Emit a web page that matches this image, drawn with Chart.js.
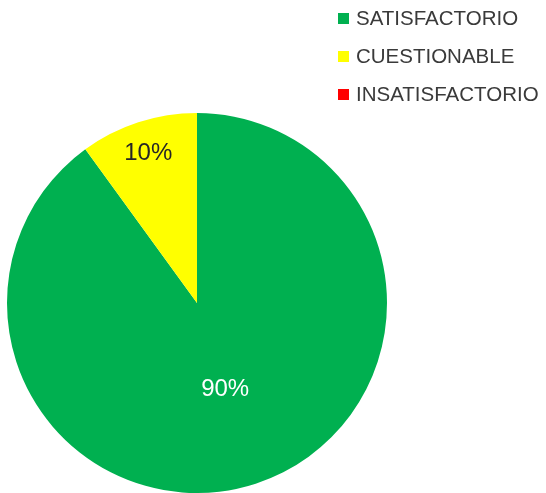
<!DOCTYPE html>
<html>
<head>
<meta charset="utf-8">
<script src="https://cdn.jsdelivr.net/npm/chart.js@4.4.1/dist/chart.umd.min.js"></script>
<style>
  html, body { margin: 0; padding: 0; background: #fff; }
  #wrap { width: 546px; height: 493px; position: relative; }
</style>
</head>
<body>
<div id="wrap"><canvas id="pieChart"></canvas></div>
<script>
const categories = ['SATISFACTORIO', 'CUESTIONABLE', 'INSATISFACTORIO'];
const shares = [90, 10, 0];
const colors = ['#00b050', '#ffff00', '#ff0000'];
const labelColors = ['#ffffff', '#262626', '#262626'];
// how far out (fraction of radius) each value label sits
const labelRadius = [0.48, 0.83, 0.7];

const fontFamily = '"Liberation Sans", Arial, sans-serif';

// percentage labels inside slices
const sliceLabels = {
    id: 'sliceLabels',
    afterDatasetsDraw(chart) {
        const ctx = chart.ctx;
        const meta = chart.getDatasetMeta(0);
        ctx.save();
        ctx.font = '24px ' + fontFamily;
        ctx.textAlign = 'center';
        ctx.textBaseline = 'middle';
        meta.data.forEach((arc, i) => {
            if (!shares[i]) return;
            const mid = (arc.startAngle + arc.endAngle) / 2;
            const r = arc.outerRadius * labelRadius[i];
            ctx.fillStyle = labelColors[i];
            ctx.fillText(shares[i] + '%', arc.x + Math.cos(mid) * r, arc.y + Math.sin(mid) * r);
        });
        ctx.restore();
    }
};

// legend in the top right corner
const cornerLegend = {
    id: 'cornerLegend',
    afterDraw(chart) {
        const ctx = chart.ctx;
        ctx.save();
        ctx.font = '20.5px ' + fontFamily;
        ctx.textBaseline = 'middle';
        categories.forEach((name, i) => {
            const y = 18 + i * 38;
            ctx.fillStyle = colors[i];
            ctx.fillRect(338, y - 5, 11, 11);
            ctx.fillStyle = '#3a3a3a';
            ctx.fillText(name, 356, y + 1);
        });
        ctx.restore();
    }
};

new Chart(document.getElementById('pieChart'), {
    type: 'pie',
    data: {
        labels: categories,
        datasets: [{
            data: shares,
            backgroundColor: colors,
            borderWidth: 0
        }]
    },
    options: {
        responsive: true,
        maintainAspectRatio: false,
        animation: false,
        layout: { padding: { left: 7, right: 159, top: 113, bottom: 0 } },
        plugins: {
            legend: { display: false },
            tooltip: { enabled: false }
        }
    },
    plugins: [sliceLabels, cornerLegend]
});
</script>
</body>
</html>
